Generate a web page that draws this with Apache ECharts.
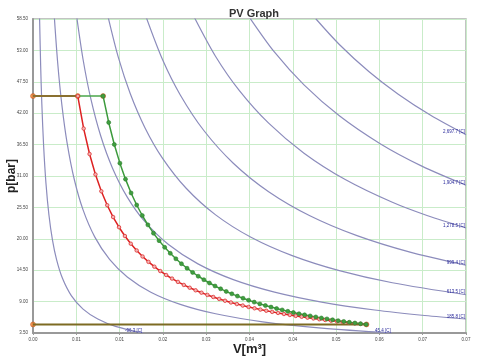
<!DOCTYPE html>
<html>
<head>
<meta charset="utf-8">
<script src="https://cdn.jsdelivr.net/npm/echarts@6/dist/echarts.min.js"></script>
<style>
  html, body { margin: 0; padding: 0; background: #fff; }
  #main { width: 480px; height: 359px; }
</style>
</head>
<body>
<div id="main"></div>
<script>
// axis ranges
var vMax = 0.0735;
var pMin = 3.5, pMax = 58.5;

// cycle corner points [V, p]
var cornerPts = [[0, 45], [0.0076, 45], [0.0119, 45], [0.0566, 5], [0, 5]];
var topLine = [[0, 45], [0.0076, 45]];
var topGreen = [[0.0076, 45], [0.0119, 45]];
var bottomLine = [[0, 5], [0.0566, 5]];

// red process curve
var redCurve = [
  [0.0076,45.00],[0.0086,39.31],[0.0096,34.85],[0.0106,31.27],[0.0116,28.33],[0.0126,25.88],
  [0.0136,23.81],[0.0146,22.03],[0.0156,20.49],[0.0166,19.14],[0.0176,17.96],[0.0186,16.90],
  [0.0196,15.96],[0.0206,15.12],[0.0216,14.35],[0.0226,13.66],[0.0236,13.03],[0.0246,12.45],
  [0.0256,11.92],[0.0266,11.43],[0.0276,10.98],[0.0286,10.56],[0.0296,10.17],[0.0306,9.81],
  [0.0316,9.47],[0.0326,9.15],[0.0336,8.85],[0.0346,8.57],[0.0356,8.31],[0.0366,8.06],
  [0.0376,7.83],[0.0386,7.60],[0.0396,7.40],[0.0406,7.20],[0.0416,7.01],[0.0426,6.83],
  [0.0436,6.66],[0.0446,6.49],[0.0456,6.34],[0.0466,6.19],[0.0476,6.05],[0.0486,5.91],
  [0.0496,5.78],[0.0506,5.66],[0.0516,5.54],[0.0526,5.42],[0.0536,5.31],[0.0546,5.20],
  [0.0556,5.10],[0.0566,5.00]
];

// green process curve
var greenCurve = [
  [0.0119,45.00],[0.01285,40.38],[0.0138,36.52],[0.01475,33.25],[0.0157,30.45],[0.01665,28.03],
  [0.0176,25.92],[0.01855,24.08],[0.0195,22.44],[0.02045,20.98],[0.0214,19.68],[0.02235,18.51],
  [0.0233,17.46],[0.02425,16.50],[0.0252,15.63],[0.02615,14.84],[0.0271,14.11],[0.02805,13.44],
  [0.029,12.83],[0.02995,12.26],[0.0309,11.73],[0.03185,11.24],[0.0328,10.78],[0.03375,10.36],
  [0.0347,9.96],[0.03565,9.59],[0.0366,9.24],[0.03755,8.91],[0.0385,8.60],[0.03945,8.31],
  [0.0404,8.04],[0.04135,7.78],[0.0423,7.54],[0.04325,7.30],[0.0442,7.08],[0.04515,6.87],
  [0.0461,6.68],[0.04705,6.49],[0.048,6.31],[0.04895,6.13],[0.0499,5.97],[0.05085,5.81],
  [0.0518,5.66],[0.05275,5.52],[0.0537,5.38],[0.05465,5.25],[0.0556,5.13],[0.05655,5.01]
];

// isotherm labels and their points
var isoNames = ['-96.3 [C]', '45.4 [C]', '185.8 [C]', '613.5 [C]', '999.4 [C]', '1,278.5 [C]', '1,904.7 [C]', '2,697.7 [C]'];
var isoLines = [
  [[0.0011,59.45],[0.0013,50.31],[0.0015,43.6],[0.0018,36.33],[0.0022,29.73],[0.0027,24.22],[0.0033,19.82],
   [0.004,16.35],[0.005,13.08],[0.0065,10.06],[0.0085,7.69],[0.011,5.95],[0.014,4.67],[0.0187,3.5]],
  [[0.0036,59.17],[0.0042,50.71],[0.0049,43.47],[0.0058,36.72],[0.007,30.43],[0.0085,25.06],[0.0105,20.29],
   [0.013,16.38],[0.016,13.31],[0.02,10.65],[0.025,8.52],[0.031,6.87],[0.039,5.46],[0.049,4.35],[0.0609,3.5]],
  [[0.0074,59.05],[0.0085,51.41],[0.0098,44.59],[0.0115,38.0],[0.0135,32.37],[0.016,27.31],[0.019,23.0],
   [0.023,19.0],[0.028,15.61],[0.034,12.85],[0.041,10.66],[0.049,8.92],[0.058,7.53],[0.0665,6.57],[0.0735,5.95]],
  [[0.0127,59.06],[0.0145,51.72],[0.0165,45.45],[0.019,39.47],[0.022,34.09],[0.026,28.85],[0.031,24.19],
   [0.037,20.27],[0.044,17.05],[0.052,14.42],[0.061,12.3],[0.0735,10.2]],
  [[0.0192,58.85],[0.022,51.36],[0.025,45.2],[0.029,38.97],[0.034,33.24],[0.04,28.25],[0.047,24.04],
   [0.055,20.55],[0.064,17.66],[0.0735,15.37]],
  [[0.0274,58.76],[0.031,51.94],[0.035,46.0],[0.04,40.25],[0.046,35.0],[0.053,30.38],[0.061,26.39],
   [0.067,24.03],[0.0735,21.9]],
  [[0.0368,58.7],[0.041,52.68],[0.046,46.96],[0.052,41.54],[0.059,36.61],[0.066,32.73],[0.0735,29.39]],
  [[0.048,58.54],[0.052,54.04],[0.057,49.3],[0.062,45.32],[0.0675,41.63],[0.0735,38.23]]
];

var chart = echarts.init(document.getElementById('main'));

var series = [];
isoLines.forEach(function (pts, i) {
  series.push({
    type: 'line',
    data: pts,
    smooth: 0.3,
    symbol: 'none',
    silent: true,
    lineStyle: { color: '#8c8cbc', width: 1.2 },
    endLabel: {
      show: true,
      formatter: isoNames[i],
      fontSize: 4.5,
      color: '#2b2b9c',
      align: 'right',
      verticalAlign: 'bottom',
      distance: -1
    }
  });
});

series.push({
  type: 'line', data: bottomLine, symbol: 'none',
  lineStyle: { color: '#7d6b22', width: 2 }
});
series.push({
  type: 'line', data: topLine, symbol: 'none',
  lineStyle: { color: '#8a7030', width: 2 }
});
series.push({
  type: 'line', data: topGreen, symbol: 'none',
  lineStyle: { color: '#4aa64a', width: 1.5 }
});
series.push({
  type: 'line', data: redCurve,
  symbol: 'circle', symbolSize: 3.5,
  lineStyle: { color: '#dd2222', width: 1.5 },
  itemStyle: { color: '#f3b3b3', borderColor: '#dd3333', borderWidth: 0.8 }
});
series.push({
  type: 'line', data: greenCurve,
  symbol: 'circle', symbolSize: 4,
  lineStyle: { color: '#3c9a3c', width: 1.5 },
  itemStyle: { color: '#3f9e3f', borderColor: '#2e7d2e', borderWidth: 0.6 }
});
series.push({
  type: 'scatter', data: cornerPts,
  symbol: 'circle', symbolSize: 5,
  itemStyle: { color: '#ee7a2a', borderColor: '#c0561a', borderWidth: 0.6 }
});

chart.setOption({
  animation: false,
  title: {
    text: 'PV Graph',
    left: 249, top: 3,
    textAlign: 'center',
    textStyle: { fontSize: 11, fontWeight: 'bold', color: '#333', fontFamily: 'Liberation Sans' }
  },
  grid: {
    left: 33, right: 14, top: 19, bottom: 26,
    outerBoundsMode: 'none',
    containLabel: false,
    show: true, borderColor: '#b0b0b0', borderWidth: 1.5
  },
  xAxis: {
    type: 'value',
    min: 0, max: vMax, interval: vMax / 10,
    name: 'V[m³]',
    nameLocation: 'middle',
    nameGap: 10,
    nameMoveOverlap: false,
    nameTextStyle: { fontSize: 13, fontWeight: 'bold', color: '#222', fontFamily: 'Liberation Sans' },
    axisLine: { lineStyle: { color: '#999', width: 2 } },
    axisTick: { show: true, length: 2, lineStyle: { color: '#999' } },
    axisLabel: {
      fontSize: 4.5, color: '#444', margin: 4,
      formatter: function (v) { return v.toFixed(2); }
    },
    splitLine: { lineStyle: { color: '#c9ecc9', width: 1 } }
  },
  yAxis: {
    type: 'value',
    min: pMin, max: pMax, interval: 5.5,
    name: 'p[bar]',
    nameLocation: 'middle',
    nameGap: 15,
    nameMoveOverlap: false,
    nameTextStyle: { fontSize: 12, fontWeight: 'bold', color: '#222', fontFamily: 'Liberation Sans' },
    axisLine: { show: true, lineStyle: { color: '#999', width: 2 } },
    axisTick: { show: false },
    axisLabel: {
      fontSize: 4.5, color: '#444', margin: 5,
      formatter: function (v) { return v.toFixed(2); }
    },
    splitLine: { lineStyle: { color: '#c9ecc9', width: 1 } }
  },
  series: series
});
</script>
</body>
</html>
